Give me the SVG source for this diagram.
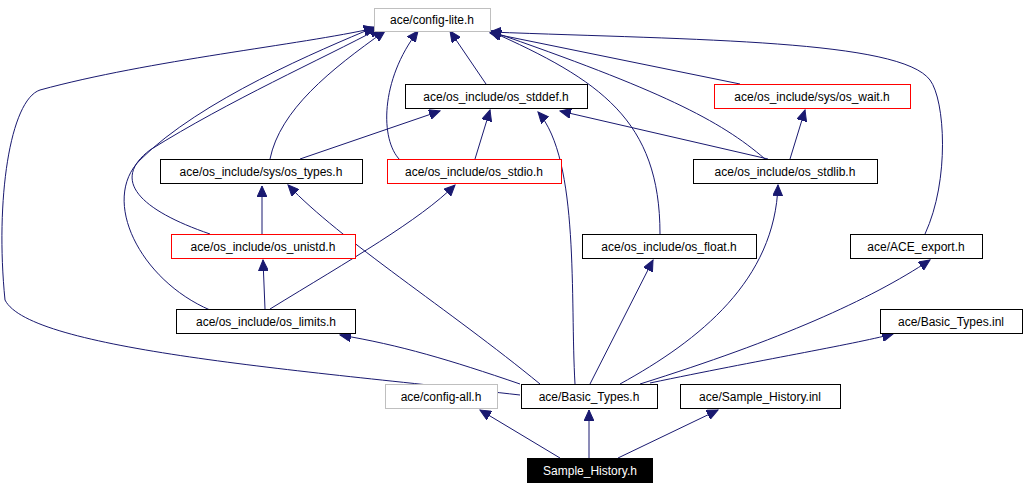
<svg xmlns="http://www.w3.org/2000/svg" width="1030" height="490" viewBox="0 0 1030 490">
<style>
.n rect{fill:#fff;stroke:#000;stroke-width:1}
.n.g rect{stroke:#bfbfbf}
.n.r rect{stroke:#f00}
.n text{font-family:"Liberation Sans",Arial,sans-serif;font-size:12px;text-anchor:middle;fill:#000}
.n.k rect{fill:#000}
.n.k text{fill:#fff}
#edges path{fill:none;stroke:#191970;stroke-width:1;marker-end:url(#a)}
</style>
<defs><marker id="a" markerWidth="12" markerHeight="10" refX="11" refY="5" orient="auto" markerUnits="userSpaceOnUse"><path d="M0,0L11,5L0,10z" fill="#191970" stroke="#191970"/></marker></defs>
<rect width="1030" height="490" fill="#fff"/>
<g id="edges">
<path d="M560,458L480,410"/>
<path d="M589,458L589,410"/>
<path d="M618,458L718,410"/>
<path d="M590,384L653,260"/>
<path d="M620,384C700,340 775,280 778,185"/>
<path d="M640,384C780,340 870,300 930,260"/>
<path d="M650,383C760,360 850,345 893,334"/>
<path d="M520,384C450,360 400,345 340,335"/>
<path d="M575,384C570,300 580,160 538,112"/>
<path d="M540,384C450,310 340,240 288,185"/>
<path d="M520,395C300,370 30,350 5,300C-5,200 10,100 40,90C150,60 300,45 375,28"/>
<path d="M265,309L263,260"/>
<path d="M270,309C350,260 420,220 455,185"/>
<path d="M210,310C140,280 100,200 140,160C200,100 320,50 375,27"/>
<path d="M262,234L262,186"/>
<path d="M210,234C140,210 110,180 150,150C230,100 320,60 380,28"/>
<path d="M300,159L440,111"/>
<path d="M270,159C280,110 330,70 385,31"/>
<path d="M475,159L490,110"/>
<path d="M400,160C380,140 380,80 418,31"/>
<path d="M768,159L560,111"/>
<path d="M790,159L805,110"/>
<path d="M765,159C720,120 660,90 490,31"/>
<path d="M660,234C660,120 600,80 490,31"/>
<path d="M925,234C950,180 945,100 930,80C900,40 700,40 490,32"/>
<path d="M740,84L490,33"/>
<path d="M486,84L450,31"/>
</g>
<g id="n1" class="n g"><rect x="374.5" y="8.5" width="116" height="23"/><text x="432" y="24">ace/config-lite.h</text></g>
<g id="n2" class="n"><rect x="405.5" y="84.5" width="182" height="24"/><text x="496" y="101">ace/os_include/os_stddef.h</text></g>
<g id="n3" class="n r"><rect x="714.5" y="84.5" width="196" height="24"/><text x="812" y="101">ace/os_include/sys/os_wait.h</text></g>
<g id="n4" class="n"><rect x="160.5" y="159.5" width="202" height="24"/><text x="261" y="176">ace/os_include/sys/os_types.h</text></g>
<g id="n5" class="n r"><rect x="387.5" y="159.5" width="174" height="24"/><text x="474" y="176">ace/os_include/os_stdio.h</text></g>
<g id="n6" class="n"><rect x="693.5" y="159.5" width="184" height="24"/><text x="785" y="176">ace/os_include/os_stdlib.h</text></g>
<g id="n7" class="n r"><rect x="171.5" y="234.5" width="184" height="24"/><text x="263" y="251">ace/os_include/os_unistd.h</text></g>
<g id="n8" class="n"><rect x="582.5" y="234.5" width="174" height="24"/><text x="669" y="251">ace/os_include/os_float.h</text></g>
<g id="n9" class="n"><rect x="850.5" y="234.5" width="132" height="24"/><text x="916" y="251">ace/ACE_export.h</text></g>
<g id="n10" class="n"><rect x="176.5" y="309.5" width="179" height="24"/><text x="266" y="326">ace/os_include/os_limits.h</text></g>
<g id="n11" class="n"><rect x="880.5" y="309.5" width="142" height="24"/><text x="951" y="326">ace/Basic_Types.inl</text></g>
<g id="n12" class="n g"><rect x="385.5" y="384.5" width="112" height="24"/><text x="441" y="401">ace/config-all.h</text></g>
<g id="n13" class="n"><rect x="521.5" y="384.5" width="136" height="24"/><text x="589" y="401">ace/Basic_Types.h</text></g>
<g id="n14" class="n"><rect x="680.5" y="384.5" width="160" height="24"/><text x="760" y="401">ace/Sample_History.inl</text></g>
<g id="n15" class="n k"><rect x="527.5" y="458.5" width="125" height="24"/><text x="590" y="475">Sample_History.h</text></g>
</svg>
